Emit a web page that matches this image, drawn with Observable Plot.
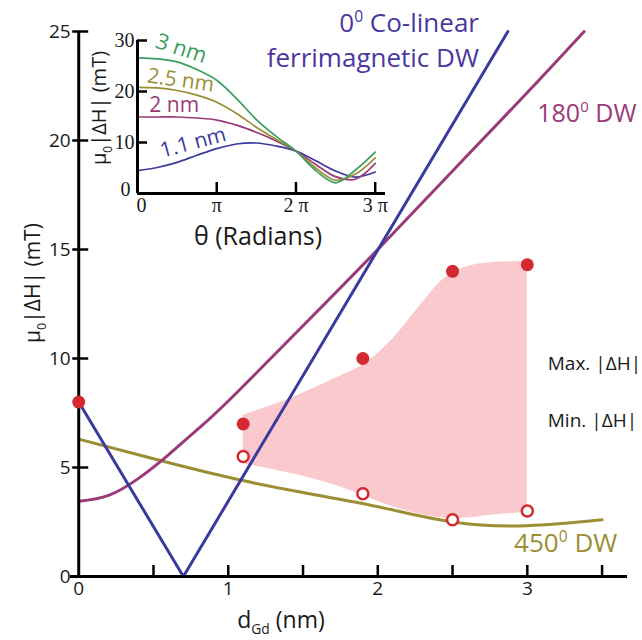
<!DOCTYPE html>
<html><head><meta charset="utf-8">
<script src="https://cdn.jsdelivr.net/npm/d3@7"></script>
<script src="https://cdn.jsdelivr.net/npm/@observablehq/plot@0.6"></script>
<style>
body{margin:0;background:#fff}
#wrap{position:relative;width:642px;height:640px;overflow:hidden}
#wrap svg{position:absolute;left:0;top:0}
</style>
</head><body><div id="wrap"></div>
<script>
// ---- main chart data (d_Gd in nm, mu0|dH| in mT) ----
const dGdMax = [0, 1.1, 1.9, 2.5, 3.0];
const maxDH = [8.0, 7.0, 10.0, 14.0, 14.3];
const dGdMin = [1.1, 1.9, 2.5, 3.0];
const minDH = [5.5, 3.8, 2.6, 3.0];

const bandX = [1.1, 1.43, 1.72, 1.9, 2.1, 2.28, 2.45, 2.59, 2.77, 3.0];
const bandTop = [7.4, 8.2, 9.1, 9.7, 10.9, 12.4, 13.7, 14.2, 14.4, 14.45];
const bandBottom = [5.17, 4.71, 4.17, 3.72, 3.2, 2.85, 2.67, 2.68, 2.82, 2.95];

const colinearX = [0, 0.7, 2.87];
const colinearY = [8.0, 0, 25];
const dw180X = [0, 0.2, 0.4, 0.6, 0.8, 1.0, 1.5, 2.0, 2.5, 3.0, 3.38];
const dw180Y = [3.45, 3.72, 4.5, 5.58, 6.78, 8.05, 11.5, 15.0, 18.6, 22.2, 25];
const dw450X = [0, 0.5, 1.0, 1.5, 2.0, 2.5, 3.0, 3.5];
const dw450Y = [6.3, 5.4, 4.55, 3.85, 3.2, 2.5, 2.33, 2.6];

const mainYTicks = [0, 5, 10, 15, 20, 25];
const mainXTicks = [0.5, 1, 1.5, 2, 2.5, 3, 3.5];
const mainXLabels = [0, 1, 2, 3];

// ---- inset data (theta in units of pi) ----
const thetaPi = [0, 0.25, 0.5, 0.75, 1, 1.25, 1.5, 1.75, 2, 2.25, 2.5, 2.75, 3];
const inset3nm  = [26.6, 26.4, 25.8, 24.3, 22.2, 18.6, 14.5, 11.2, 8.3, 4.5, 2.1, 4.6, 8.1];
const inset25nm = [20.8, 20.7, 20.2, 19.3, 17.9, 15.7, 13.0, 10.6, 8.3, 5.0, 2.6, 3.8, 7.0];
const inset2nm  = [15.0, 15.0, 15.0, 14.8, 14.4, 13.4, 12.0, 10.3, 8.3, 5.7, 3.3, 2.8, 5.9];
const inset11nm = [4.5, 5.1, 6.1, 7.5, 8.8, 9.7, 9.9, 9.3, 8.3, 6.4, 4.4, 3.2, 4.2];
const insetYTicks = [10, 20, 30];
const insetXTicks = [1, 2, 3];
const insetXTickLabels = ["π", "2 π", "3 π"];
const insetOrigin = [0];

const C = {
  blue: "#3b3a9e", blueText: "#4a37a0", purple: "#9b3a78", olive: "#9b8e35",
  red: "#d22a30", pink: "#f9c9cd", green: "#3a9e5c", ink: "#1a1a1a"
};
const SANS = "'Open Sans', 'DejaVu Sans', sans-serif";
const SERIF = "'Liberation Serif', 'DejaVu Serif', serif";

const zip = (xs, ys) => xs.map((x, i) => ({x, y: ys[i]}));
const zero = () => 0;

const main = Plot.plot({
  width: 642, height: 640,
  marginLeft: 70, marginRight: 15, marginTop: 31, marginBottom: 64,
  style: {background: "none", fontFamily: SANS, overflow: "visible"},
  x: {domain: [-0.055, 3.67], label: null, axis: null},
  y: {domain: [0, 25], label: null, axis: null},
  marks: [
    Plot.areaY(bandX.map((x, i) => ({x, y1: bandBottom[i], y2: bandTop[i]})),
      {x: "x", y1: "y1", y2: "y2", fill: C.pink, curve: "catmull-rom"}),
    Plot.line(zip(dw450X, dw450Y), {x: "x", y: "y", stroke: C.olive, strokeWidth: 3, curve: "natural"}),
    Plot.line(zip(dw180X, dw180Y), {x: "x", y: "y", stroke: C.purple, strokeWidth: 3, curve: "natural"}),
    Plot.line(zip(colinearX, colinearY), {x: "x", y: "y", stroke: C.blue, strokeWidth: 3}),
    Plot.ruleY([0], {stroke: "#000", strokeWidth: 3}),
    Plot.ruleX([0], {stroke: "#000", strokeWidth: 3}),
    // y ticks crossing the axis, x ticks pointing inward
    Plot.ruleY(mainYTicks.filter(d => d !== 0), {y: d => d, x1: zero, x2: zero, insetLeft: -6, insetRight: -10, stroke: "#000", strokeWidth: 2.5}),
    Plot.ruleX(mainXTicks, {x: d => d, y1: zero, y2: zero, insetTop: -11, stroke: "#000", strokeWidth: 2.5}),
    Plot.text(mainYTicks, {x: zero, y: d => d, text: d => String(d), dx: -8, textAnchor: "end", fontSize: 19, fill: C.ink}),
    Plot.text(mainXLabels, {x: d => d, y: zero, text: d => String(d), dy: 5, lineAnchor: "top", fontSize: 19, fill: C.ink}),
    Plot.dot(zip(dGdMin, minDH), {x: "x", y: "y", r: 5.5, stroke: C.red, strokeWidth: 2.5, fill: "white"}),
    Plot.dot(zip(dGdMax, maxDH), {x: "x", y: "y", r: 6.5, fill: C.red, stroke: "none"})
  ]
});

const inset = Plot.plot({
  width: 400, height: 250,
  marginLeft: 137, marginRight: 15, marginTop: 40, marginBottom: 57,
  style: {background: "none", fontFamily: SERIF, overflow: "visible"},
  x: {domain: [0, 3.13], label: null, axis: null},
  y: {domain: [0, 30], label: null, axis: null},
  marks: [
    Plot.line(zip(thetaPi, inset11nm), {x: "x", y: "y", stroke: C.blue, strokeWidth: 1.7, curve: "catmull-rom"}),
    Plot.line(zip(thetaPi, inset2nm), {x: "x", y: "y", stroke: C.purple, strokeWidth: 1.7, curve: "catmull-rom"}),
    Plot.line(zip(thetaPi, inset25nm), {x: "x", y: "y", stroke: C.olive, strokeWidth: 1.7, curve: "catmull-rom"}),
    Plot.line(zip(thetaPi, inset3nm), {x: "x", y: "y", stroke: C.green, strokeWidth: 1.7, curve: "catmull-rom"}),
    Plot.ruleY([0], {stroke: "#000", strokeWidth: 3}),
    Plot.ruleX([0], {stroke: "#000", strokeWidth: 3}),
    Plot.ruleY(insetYTicks, {y: d => d, x1: zero, x2: zero, insetRight: -10, stroke: "#000", strokeWidth: 2.5}),
    Plot.ruleX(insetXTicks, {x: d => d, y1: zero, y2: zero, insetTop: -11, stroke: "#000", strokeWidth: 2.5}),
    Plot.text(insetYTicks, {x: zero, y: d => d, text: d => String(d), dx: -3, textAnchor: "end", fontSize: 20, fontFamily: SERIF, fill: C.ink}),
    Plot.text(insetXTicks, {x: d => d, y: zero, text: (d, i) => insetXTickLabels[i], dy: 4, lineAnchor: "top", fontSize: 20, fontFamily: SERIF, fill: C.ink}),
    // the two "0" labels at the origin
    Plot.text(insetOrigin, {x: zero, y: d => d, text: d => String(d), dx: -7, dy: -4, textAnchor: "end", fontSize: 20, fontFamily: SERIF, fill: C.ink}),
    Plot.text(insetOrigin, {x: d => d, y: zero, text: d => String(d), dx: 4, dy: 4, lineAnchor: "top", fontSize: 20, fontFamily: SERIF, fill: C.ink})
  ]
});

const wrap = document.getElementById("wrap");
wrap.appendChild(main);
wrap.appendChild(inset);

function addText(svgEl, x, y, parts, o) {
  const size = o.size, svg = d3.select(svgEl);
  const t = svg.append("text")
    .attr("transform", `translate(${x},${y}) rotate(${o.rotate || 0})`)
    .attr("text-anchor", o.anchor || "start")
    .attr("font-family", o.family || SANS)
    .attr("font-size", size)
    .attr("fill", o.fill || C.ink);
  let shift = 0;
  for (const p of parts) {
    const s = typeof p === "string" ? {t: p} : p;
    let target = 0, fs = size;
    if (s.sup) { target = -0.38 * size; fs = 0.6 * size; }
    if (s.sub) { target = 0.28 * size; fs = 0.6 * size; }
    t.append("tspan").attr("dy", target - shift).attr("font-size", fs).text(s.t);
    shift = target;
  }
  return t;
}

const sx = main.scale("x"), sy = main.scale("y");
const X = v => sx.apply(v), Y = v => sy.apply(v);

addText(main, X(2.68), Y(24.97), ["0", {t: "0", sup: true}, " Co-linear"], {size: 26, fill: C.blueText, anchor: "end"});
addText(main, X(2.68), Y(23.36), ["ferrimagnetic DW"], {size: 26, fill: C.blueText, anchor: "end"});
addText(main, X(3.07), Y(20.84), ["180", {t: "0", sup: true}, " DW"], {size: 25, fill: C.purple});
addText(main, X(2.915), Y(1.11), ["450", {t: "0", sup: true}, " DW"], {size: 26, fill: C.olive});
addText(main, X(3.14), Y(9.45), ["Max. |ΔH|"], {size: 19});
addText(main, X(3.14), Y(6.83), ["Min. |ΔH|"], {size: 19});
addText(main, 40, 283, ["μ", {t: "0", sub: true}, "|ΔH| (mT)"], {size: 21, anchor: "middle", rotate: -90});
addText(main, 281, 628, ["d", {t: "Gd", sub: true}, " (nm)"], {size: 23, anchor: "middle"});

const ix = inset.scale("x"), iy = inset.scale("y");
const IX = v => ix.apply(v), IY = v => iy.apply(v);
addText(inset, 106, 108, ["μ", {t: "0", sub: true}, "|ΔH| (mT)"], {size: 20, anchor: "middle", rotate: -90});
addText(inset, 258, 245, ["θ (Radians)"], {size: 25, anchor: "middle"});
addText(inset, IX(0.53), IY(27.0), ["3 nm"], {size: 22, anchor: "middle", rotate: 18, fill: C.green});
addText(inset, IX(0.54), IY(20.8), ["2.5 nm"], {size: 21, anchor: "middle", rotate: 8, fill: C.olive});
addText(inset, IX(0.47), IY(15.9), ["2 nm"], {size: 21, anchor: "middle", fill: C.purple});
addText(inset, IX(0.73), IY(8.6), ["1.1 nm"], {size: 21, anchor: "middle", rotate: -15, fill: C.blue});
</script></body></html>
